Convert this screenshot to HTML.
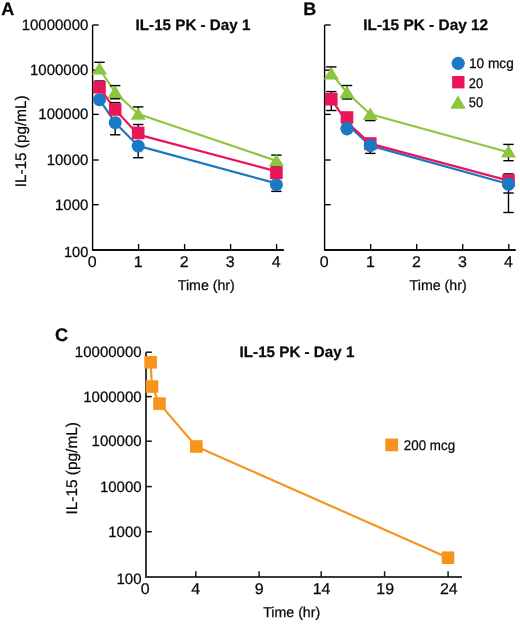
<!DOCTYPE html>
<html><head><meta charset="utf-8"><style>
html,body{margin:0;padding:0;background:#fff;}
svg{display:block;will-change:transform;text-rendering:geometricPrecision;}
text{font-family:"Liberation Sans",sans-serif;fill:#0a0a0a;stroke:#0a0a0a;stroke-width:0.25px;}
</style></head><body>
<svg width="520" height="624" viewBox="0 0 520 624">
<rect width="520" height="624" fill="#fff"/>
<path d="M92.6,25.0 V250.0 H283.7" fill="none" stroke="#000" stroke-width="1.4"/>
<path d="M92.6,250.0 H283.7" fill="none" stroke="#000" stroke-width="1.6"/>
<line x1="92.6" y1="25.00" x2="98.7" y2="25.00" stroke="#000" stroke-width="1.35"/>
<line x1="92.6" y1="70.10" x2="98.7" y2="70.10" stroke="#000" stroke-width="1.35"/>
<line x1="92.6" y1="114.40" x2="98.7" y2="114.40" stroke="#000" stroke-width="1.35"/>
<line x1="92.6" y1="160.00" x2="98.7" y2="160.00" stroke="#000" stroke-width="1.35"/>
<line x1="92.6" y1="204.70" x2="98.7" y2="204.70" stroke="#000" stroke-width="1.35"/>
<line x1="138.60" y1="250.0" x2="138.60" y2="244.0" stroke="#000" stroke-width="1.35"/>
<line x1="184.60" y1="250.0" x2="184.60" y2="244.0" stroke="#000" stroke-width="1.35"/>
<line x1="230.60" y1="250.0" x2="230.60" y2="244.0" stroke="#000" stroke-width="1.35"/>
<line x1="276.60" y1="250.0" x2="276.60" y2="244.0" stroke="#000" stroke-width="1.35"/>
<text transform="translate(88.4 29.8)" font-size="15" text-anchor="end" font-weight="normal" >10000000</text>
<text transform="translate(88.4 74.89999999999999)" font-size="15" text-anchor="end" font-weight="normal" >1000000</text>
<text transform="translate(88.4 119.2)" font-size="15" text-anchor="end" font-weight="normal" >100000</text>
<text transform="translate(88.4 164.8)" font-size="15" text-anchor="end" font-weight="normal" >10000</text>
<text transform="translate(88.4 209.5)" font-size="15" text-anchor="end" font-weight="normal" >1000</text>
<text transform="translate(88.3 256.6)" font-size="14.6" text-anchor="end" font-weight="normal" >100</text>
<text transform="translate(92.3 266.6) scale(1.03 1)" font-size="15.5" text-anchor="middle" font-weight="normal" >0</text>
<text transform="translate(138.29999999999998 266.6) scale(1.03 1)" font-size="15.5" text-anchor="middle" font-weight="normal" >1</text>
<text transform="translate(184.29999999999998 266.6) scale(1.03 1)" font-size="15.5" text-anchor="middle" font-weight="normal" >2</text>
<text transform="translate(230.29999999999998 266.6) scale(1.03 1)" font-size="15.5" text-anchor="middle" font-weight="normal" >3</text>
<text transform="translate(276.3 266.6) scale(1.03 1)" font-size="15.5" text-anchor="middle" font-weight="normal" >4</text>
<text transform="translate(206.3 289.6)" font-size="14.2" text-anchor="middle" font-weight="normal" >Time (hr)</text>
<text transform="translate(26 141.4) rotate(-90)" font-size="15.3" text-anchor="middle" font-weight="normal" >IL-15 (pg/mL)</text>
<text transform="translate(1.2 14.8)" font-size="18" text-anchor="start" font-weight="bold" >A</text>
<text transform="translate(193 29.8)" font-size="15.2" text-anchor="middle" font-weight="bold" >IL-15 PK - Day 1</text>
<polyline points="99.50,99.70 115.20,122.70 138.20,145.90 276.40,183.40" fill="none" stroke="#1a79c4" stroke-width="2.15" stroke-linejoin="round"/>
<polyline points="99.50,87.30 115.20,109.80 138.20,134.60 276.40,171.40" fill="none" stroke="#eb1659" stroke-width="2.15" stroke-linejoin="round"/>
<polyline points="99.50,68.90 115.20,92.50 138.20,114.00 276.40,160.85" fill="none" stroke="#8cc63f" stroke-width="2.15" stroke-linejoin="round"/>
<line x1="115.2" y1="122.7" x2="115.2" y2="134.8" stroke="#000" stroke-width="1.4"/>
<line x1="110.00" y1="134.8" x2="120.40" y2="134.8" stroke="#000" stroke-width="1.4"/>
<line x1="138.2" y1="146.1" x2="138.2" y2="157.7" stroke="#000" stroke-width="1.4"/>
<line x1="133.00" y1="157.7" x2="143.40" y2="157.7" stroke="#000" stroke-width="1.4"/>
<line x1="276.4" y1="184.7" x2="276.4" y2="191.4" stroke="#000" stroke-width="1.4"/>
<line x1="271.20" y1="191.4" x2="281.60" y2="191.4" stroke="#000" stroke-width="1.4"/>
<line x1="99.5" y1="87.3" x2="99.5" y2="81.0" stroke="#000" stroke-width="1.4"/>
<line x1="94.30" y1="81.0" x2="104.70" y2="81.0" stroke="#000" stroke-width="1.4"/>
<line x1="115.2" y1="109.5" x2="115.2" y2="102.6" stroke="#000" stroke-width="1.4"/>
<line x1="110.00" y1="102.6" x2="120.40" y2="102.6" stroke="#000" stroke-width="1.4"/>
<line x1="138.2" y1="132.9" x2="138.2" y2="124.5" stroke="#000" stroke-width="1.4"/>
<line x1="133.00" y1="124.5" x2="143.40" y2="124.5" stroke="#000" stroke-width="1.4"/>
<line x1="276.4" y1="172.2" x2="276.4" y2="166.8" stroke="#000" stroke-width="1.4"/>
<line x1="271.20" y1="166.8" x2="281.60" y2="166.8" stroke="#000" stroke-width="1.4"/>
<line x1="99.5" y1="68.9" x2="99.5" y2="62.3" stroke="#000" stroke-width="1.4"/>
<line x1="94.30" y1="62.3" x2="104.70" y2="62.3" stroke="#000" stroke-width="1.4"/>
<line x1="115.2" y1="92.5" x2="115.2" y2="85.6" stroke="#000" stroke-width="1.4"/>
<line x1="110.00" y1="85.6" x2="120.40" y2="85.6" stroke="#000" stroke-width="1.4"/>
<line x1="138.2" y1="114.0" x2="138.2" y2="106.9" stroke="#000" stroke-width="1.4"/>
<line x1="133.00" y1="106.9" x2="143.40" y2="106.9" stroke="#000" stroke-width="1.4"/>
<line x1="276.4" y1="160.85000000000002" x2="276.4" y2="155.1" stroke="#000" stroke-width="1.4"/>
<line x1="271.20" y1="155.1" x2="281.60" y2="155.1" stroke="#000" stroke-width="1.4"/>
<line x1="115.2" y1="92.5" x2="115.2" y2="98.75" stroke="#000" stroke-width="1.4"/>
<line x1="110.00" y1="98.75" x2="120.40" y2="98.75" stroke="#000" stroke-width="1.4"/>
<circle cx="99.5" cy="99.7" r="6.5" fill="#1a79c4"/>
<circle cx="115.2" cy="122.7" r="6.5" fill="#1a79c4"/>
<circle cx="138.2" cy="146.1" r="6.5" fill="#1a79c4"/>
<circle cx="276.4" cy="184.7" r="6.5" fill="#1a79c4"/>
<rect x="93.20" y="81.00" width="12.6" height="12.6" fill="#eb1659"/>
<rect x="108.90" y="103.20" width="12.6" height="12.6" fill="#eb1659"/>
<rect x="131.90" y="126.60" width="12.6" height="12.6" fill="#eb1659"/>
<rect x="270.10" y="166.50" width="12.6" height="12.6" fill="#eb1659"/>
<polygon points="99.50,62.20 107.10,74.60 91.90,74.60" fill="#8cc63f"/>
<polygon points="115.20,85.60 122.80,98.00 107.60,98.00" fill="#8cc63f"/>
<polygon points="138.20,107.40 145.80,119.80 130.60,119.80" fill="#8cc63f"/>
<polygon points="276.40,153.90 284.00,166.30 268.80,166.30" fill="#8cc63f"/>
<path d="M324.6,25.0 V250.0 H515.6" fill="none" stroke="#000" stroke-width="1.4"/>
<path d="M324.6,250.0 H515.6" fill="none" stroke="#000" stroke-width="1.6"/>
<line x1="324.6" y1="25.00" x2="330.70000000000005" y2="25.00" stroke="#000" stroke-width="1.35"/>
<line x1="324.6" y1="70.10" x2="330.70000000000005" y2="70.10" stroke="#000" stroke-width="1.35"/>
<line x1="324.6" y1="114.40" x2="330.70000000000005" y2="114.40" stroke="#000" stroke-width="1.35"/>
<line x1="324.6" y1="160.00" x2="330.70000000000005" y2="160.00" stroke="#000" stroke-width="1.35"/>
<line x1="324.6" y1="204.70" x2="330.70000000000005" y2="204.70" stroke="#000" stroke-width="1.35"/>
<line x1="370.65" y1="250.0" x2="370.65" y2="244.0" stroke="#000" stroke-width="1.35"/>
<line x1="416.70" y1="250.0" x2="416.70" y2="244.0" stroke="#000" stroke-width="1.35"/>
<line x1="462.75" y1="250.0" x2="462.75" y2="244.0" stroke="#000" stroke-width="1.35"/>
<line x1="508.80" y1="250.0" x2="508.80" y2="244.0" stroke="#000" stroke-width="1.35"/>
<text transform="translate(324.3 266.6) scale(1.03 1)" font-size="15.5" text-anchor="middle" font-weight="normal" >0</text>
<text transform="translate(370.35 266.6) scale(1.03 1)" font-size="15.5" text-anchor="middle" font-weight="normal" >1</text>
<text transform="translate(416.40000000000003 266.6) scale(1.03 1)" font-size="15.5" text-anchor="middle" font-weight="normal" >2</text>
<text transform="translate(462.45 266.6) scale(1.03 1)" font-size="15.5" text-anchor="middle" font-weight="normal" >3</text>
<text transform="translate(508.5 266.6) scale(1.03 1)" font-size="15.5" text-anchor="middle" font-weight="normal" >4</text>
<text transform="translate(438.1 289.9)" font-size="14.2" text-anchor="middle" font-weight="normal" >Time (hr)</text>
<text transform="translate(303.2 14.7)" font-size="18" text-anchor="start" font-weight="bold" >B</text>
<text transform="translate(425.7 30.1)" font-size="15.4" text-anchor="middle" font-weight="bold" >IL-15 PK - Day 12</text>
<polyline points="347.00,124.20 370.30,145.60 508.50,184.00" fill="none" stroke="#1a79c4" stroke-width="2.15" stroke-linejoin="round"/>
<polyline points="331.30,99.20 347.00,122.30 370.30,143.60 508.50,180.60" fill="none" stroke="#eb1659" stroke-width="2.15" stroke-linejoin="round"/>
<polyline points="331.30,73.60 347.00,92.50 370.30,114.25 508.50,152.25" fill="none" stroke="#8cc63f" stroke-width="2.15" stroke-linejoin="round"/>
<line x1="331.3" y1="91.6" x2="331.3" y2="110.5" stroke="#000" stroke-width="1.4"/>
<line x1="326.10" y1="91.6" x2="336.50" y2="91.6" stroke="#000" stroke-width="1.4"/>
<line x1="326.10" y1="110.5" x2="336.50" y2="110.5" stroke="#000" stroke-width="1.4"/>
<line x1="347.0" y1="85.5" x2="347.0" y2="99.0" stroke="#000" stroke-width="1.4"/>
<line x1="341.80" y1="85.5" x2="352.20" y2="85.5" stroke="#000" stroke-width="1.4"/>
<line x1="341.80" y1="99.0" x2="352.20" y2="99.0" stroke="#000" stroke-width="1.4"/>
<line x1="331.3" y1="66.9" x2="331.3" y2="73" stroke="#000" stroke-width="1.4"/>
<line x1="326.10" y1="66.9" x2="336.50" y2="66.9" stroke="#000" stroke-width="1.4"/>
<line x1="370.3" y1="113" x2="370.3" y2="120.6" stroke="#000" stroke-width="1.4"/>
<line x1="365.10" y1="120.6" x2="375.50" y2="120.6" stroke="#000" stroke-width="1.4"/>
<line x1="370.3" y1="145.5" x2="370.3" y2="153.4" stroke="#000" stroke-width="1.4"/>
<line x1="365.10" y1="153.4" x2="375.50" y2="153.4" stroke="#000" stroke-width="1.4"/>
<line x1="347.0" y1="128.6" x2="347.0" y2="135.5" stroke="#000" stroke-width="1.4"/>
<line x1="508.5" y1="144.4" x2="508.5" y2="160.7" stroke="#000" stroke-width="1.4"/>
<line x1="503.30" y1="144.4" x2="513.70" y2="144.4" stroke="#000" stroke-width="1.4"/>
<line x1="503.30" y1="160.7" x2="513.70" y2="160.7" stroke="#000" stroke-width="1.4"/>
<line x1="508.5" y1="173.9" x2="508.5" y2="212.5" stroke="#000" stroke-width="1.4"/>
<line x1="503.30" y1="173.9" x2="513.70" y2="173.9" stroke="#000" stroke-width="1.4"/>
<line x1="503.30" y1="193" x2="513.70" y2="193" stroke="#000" stroke-width="1.4"/>
<line x1="503.30" y1="212.5" x2="513.70" y2="212.5" stroke="#000" stroke-width="1.4"/>
<circle cx="347.0" cy="128.6" r="6.5" fill="#1a79c4"/>
<circle cx="370.3" cy="145.5" r="6.5" fill="#1a79c4"/>
<circle cx="508.5" cy="184.1" r="6.5" fill="#1a79c4"/>
<rect x="325.00" y="92.90" width="12.6" height="12.6" fill="#eb1659"/>
<rect x="340.70" y="111.20" width="12.6" height="12.6" fill="#eb1659"/>
<rect x="364.00" y="137.20" width="12.6" height="12.6" fill="#eb1659"/>
<rect x="502.20" y="174.30" width="12.6" height="12.6" fill="#eb1659"/>
<polygon points="331.30,67.00 338.90,79.40 323.70,79.40" fill="#8cc63f"/>
<polygon points="347.00,85.80 354.60,98.20 339.40,98.20" fill="#8cc63f"/>
<polygon points="370.30,107.60 377.90,120.00 362.70,120.00" fill="#8cc63f"/>
<polygon points="508.50,145.00 516.10,157.40 500.90,157.40" fill="#8cc63f"/>
<circle cx="347.0" cy="128.6" r="6.5" fill="#1a79c4"/>
<circle cx="370.3" cy="145.5" r="6.5" fill="#1a79c4"/>
<circle cx="508.5" cy="184.1" r="6.5" fill="#1a79c4"/>
<circle cx="458.2" cy="63.3" r="6.6" fill="#1a79c4"/>
<text transform="translate(469.0 67.9) scale(0.975 1)" font-size="14" text-anchor="start" font-weight="normal" >10 mcg</text>
<rect x="452.10" y="76.00" width="12.4" height="12.4" fill="#eb1659"/>
<text transform="translate(468.8 87.7) scale(0.92 1)" font-size="14" text-anchor="start" font-weight="normal" >20</text>
<polygon points="458.00,95.40 465.80,108.80 450.20,108.80" fill="#8cc63f"/>
<text transform="translate(468.8 106.9) scale(0.92 1)" font-size="14" text-anchor="start" font-weight="normal" >50</text>
<path d="M146.0,352.2 V576.9 H462.0" fill="none" stroke="#3a3a3a" stroke-width="2"/>
<line x1="146.0" y1="352.20" x2="151.8" y2="352.20" stroke="#111" stroke-width="1.5"/>
<line x1="146.0" y1="396.60" x2="151.8" y2="396.60" stroke="#111" stroke-width="1.5"/>
<line x1="146.0" y1="441.20" x2="151.8" y2="441.20" stroke="#111" stroke-width="1.5"/>
<line x1="146.0" y1="486.60" x2="151.8" y2="486.60" stroke="#111" stroke-width="1.5"/>
<line x1="146.0" y1="531.70" x2="151.8" y2="531.70" stroke="#111" stroke-width="1.5"/>
<line x1="195.80" y1="576.9" x2="195.80" y2="571.2" stroke="#1a1a1a" stroke-width="1.5"/>
<line x1="259.10" y1="576.9" x2="259.10" y2="571.2" stroke="#1a1a1a" stroke-width="1.5"/>
<line x1="321.20" y1="576.9" x2="321.20" y2="571.2" stroke="#1a1a1a" stroke-width="1.5"/>
<line x1="384.60" y1="576.9" x2="384.60" y2="571.2" stroke="#1a1a1a" stroke-width="1.5"/>
<line x1="448.10" y1="576.9" x2="448.10" y2="571.2" stroke="#1a1a1a" stroke-width="1.5"/>
<text transform="translate(141.6 357.09999999999997)" font-size="15" text-anchor="end" font-weight="normal" >10000000</text>
<text transform="translate(141.6 401.5)" font-size="15" text-anchor="end" font-weight="normal" >1000000</text>
<text transform="translate(141.6 446.09999999999997)" font-size="15" text-anchor="end" font-weight="normal" >100000</text>
<text transform="translate(141.6 491.5)" font-size="15" text-anchor="end" font-weight="normal" >10000</text>
<text transform="translate(141.6 536.6)" font-size="15" text-anchor="end" font-weight="normal" >1000</text>
<text transform="translate(141.5 583.7)" font-size="15" text-anchor="end" font-weight="normal" >100</text>
<text transform="translate(145.1 594.0) scale(1.03 1)" font-size="15.5" text-anchor="middle" font-weight="normal" >0</text>
<text transform="translate(195.7 594.0) scale(1.03 1)" font-size="15.5" text-anchor="middle" font-weight="normal" >4</text>
<text transform="translate(259.1 594.0) scale(1.03 1)" font-size="15.5" text-anchor="middle" font-weight="normal" >9</text>
<text transform="translate(321.6 594.0) scale(1.03 1)" font-size="15.5" text-anchor="middle" font-weight="normal" >14</text>
<text transform="translate(385.2 594.0) scale(1.03 1)" font-size="15.5" text-anchor="middle" font-weight="normal" >19</text>
<text transform="translate(448.8 594.0) scale(1.03 1)" font-size="15.5" text-anchor="middle" font-weight="normal" >24</text>
<text transform="translate(291.7 616.8)" font-size="14.2" text-anchor="middle" font-weight="normal" >Time (hr)</text>
<text transform="translate(76.6 468.3) rotate(-90)" font-size="15.4" text-anchor="middle" font-weight="normal" >IL-15 (pg/mL)</text>
<text transform="translate(55.0 340.7)" font-size="18.2" text-anchor="start" font-weight="bold" >C</text>
<text transform="translate(297 356.6)" font-size="15.2" text-anchor="middle" font-weight="bold" >IL-15 PK - Day 1</text>
<polyline points="150.60,362.30 152.00,386.50 159.50,403.60 196.30,446.50 448.00,557.70" fill="none" stroke="#f7941d" stroke-width="2.15" stroke-linejoin="round"/>
<rect x="144.30" y="356.00" width="12.6" height="12.6" fill="#f7941d"/>
<rect x="145.70" y="380.20" width="12.6" height="12.6" fill="#f7941d"/>
<rect x="153.20" y="397.30" width="12.6" height="12.6" fill="#f7941d"/>
<rect x="190.00" y="440.20" width="12.6" height="12.6" fill="#f7941d"/>
<rect x="441.70" y="551.40" width="12.6" height="12.6" fill="#f7941d"/>
<rect x="385.30" y="438.50" width="12.8" height="12.8" fill="#f7941d"/>
<text transform="translate(403.8 450.4) scale(0.955 1)" font-size="14" text-anchor="start" font-weight="normal" >200 mcg</text>
</svg>
</body></html>
